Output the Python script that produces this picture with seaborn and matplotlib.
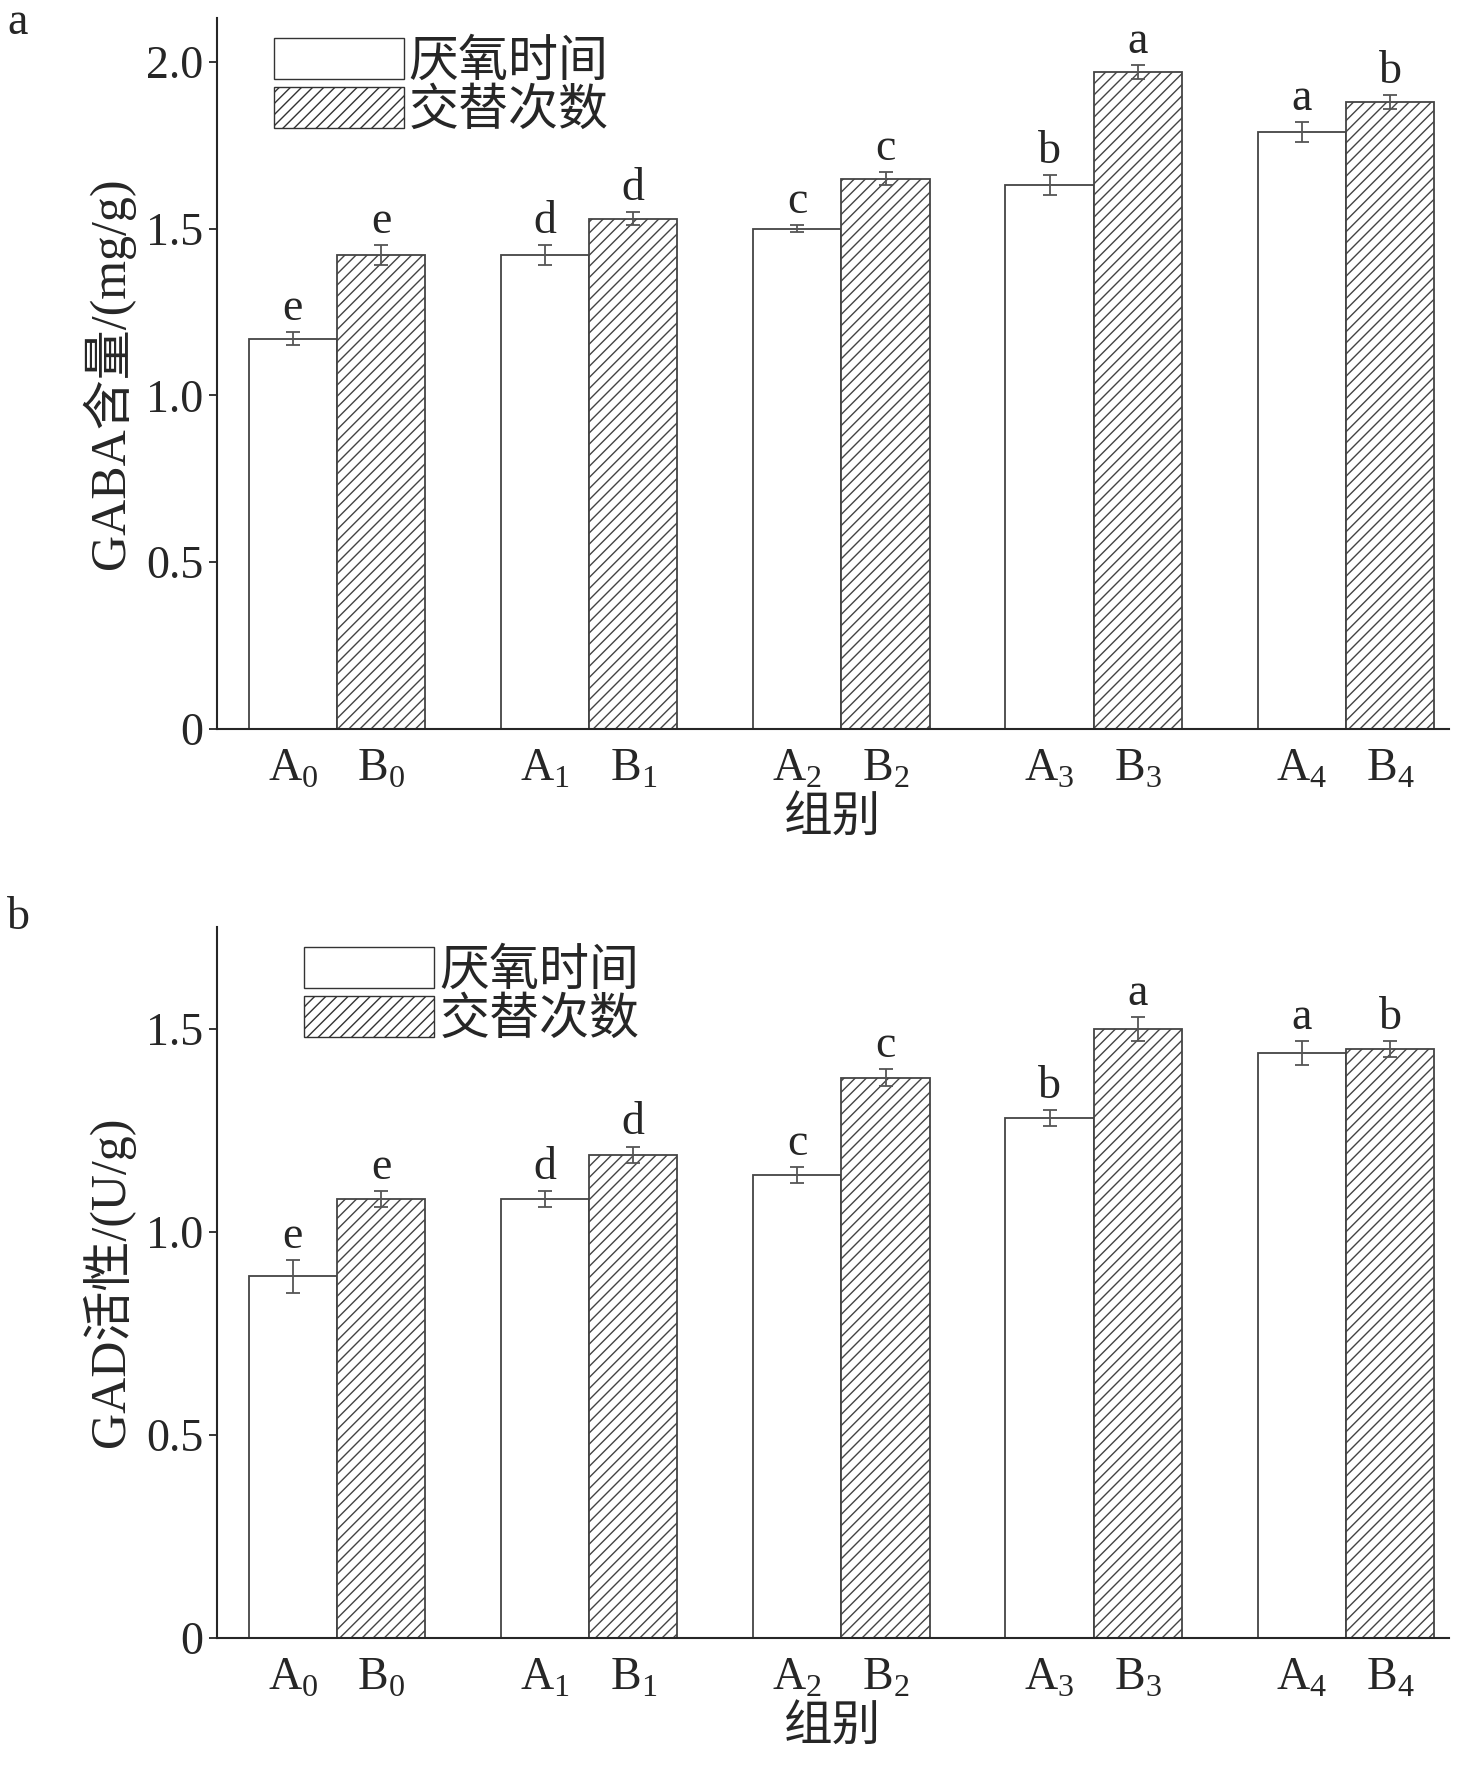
import matplotlib
matplotlib.use("Agg")
import matplotlib.pyplot as plt
import seaborn as sns
import pandas as pd
import numpy as np
from matplotlib.patches import Patch

groups = ["0", "1", "2", "3", "4"]
series = ["厌氧时间", "交替次数"]
gaba_A = [1.17, 1.42, 1.50, 1.63, 1.79]
gaba_A_err = [0.02, 0.03, 0.01, 0.03, 0.03]
gaba_B = [1.42, 1.53, 1.65, 1.97, 1.88]
gaba_B_err = [0.03, 0.02, 0.02, 0.02, 0.02]
gaba_A_let = ["e", "d", "c", "b", "a"]
gaba_B_let = ["e", "d", "c", "a", "b"]
gad_A = [0.89, 1.08, 1.14, 1.28, 1.44]
gad_A_err = [0.04, 0.02, 0.02, 0.02, 0.03]
gad_B = [1.08, 1.19, 1.38, 1.50, 1.45]
gad_B_err = [0.02, 0.02, 0.02, 0.03, 0.02]
gad_A_let = ["e", "d", "c", "b", "a"]
gad_B_let = ["e", "d", "c", "a", "b"]

sns.set_style("ticks")
plt.rcParams['font.family'] = ['Liberation Serif', 'Noto Sans CJK SC']
plt.rcParams['mathtext.fontset'] = 'custom'
plt.rcParams['mathtext.rm'] = 'Liberation Serif'
plt.rcParams['hatch.color'] = '#666666'
plt.rcParams['hatch.linewidth'] = 1.0

fig = plt.figure(figsize=(14.73, 17.82), dpi=100)
axa = fig.add_axes([0.147, 0.591, 0.837, 0.399])
axb = fig.add_axes([0.147, 0.081, 0.837, 0.399])

FS = 31

def panel(ax, A, Ae, B, Be, Al, Bl, ylim, yticks, ylabel, leg_x, tag, tag_y):
    df = pd.DataFrame({"g": groups * 2, "s": [series[0]] * 5 + [series[1]] * 5,
                       "v": A + B})
    sns.barplot(data=df, x="g", y="v", hue="s", ax=ax, width=0.7, dodge=True,
                palette=["white", "white"], edgecolor="#444444", linewidth=1.3,
                errorbar=None, legend=False)
    bars = [p for p in ax.patches]
    vals = A + B
    errs = Ae + Be
    lets = Al + Bl
    tickpos, ticklab = [], []
    for i, p in enumerate(bars[:10]):
        if i >= 5:
            p.set_hatch('///')
        xc = p.get_x() + p.get_width() / 2
        ax.errorbar(xc, vals[i], yerr=errs[i], fmt='none', ecolor='#555555',
                    elinewidth=1.3, capsize=5, capthick=1.3)
        ax.text(xc, vals[i] + errs[i] + 0.003 * ylim, lets[i], ha='center',
                va='bottom', fontsize=FS + 2)
        tickpos.append(xc)
        ticklab.append(("A" if i < 5 else "B") + r"$_{\mathregular{" + groups[i % 5] + "}}$")
    ax.set_xticks(tickpos)
    ax.set_xticklabels(ticklab, fontsize=FS + 2)
    ax.set_xlim(-0.477, 4.41)
    ax.set_ylim(0, ylim)
    ax.set_yticks(yticks)
    ax.set_yticklabels(["0" if t == 0 else f"{t:.1f}" for t in yticks], fontsize=FS + 2)
    ax.set_xlabel("组别", fontsize=FS + 4, labelpad=4)
    ax.set_ylabel(ylabel, fontsize=FS + 5, labelpad=8)
    ax.tick_params(direction='out', length=6, width=1.3)
    ax.tick_params(axis='x', length=0, pad=14)
    for s in ['top', 'right']:
        ax.spines[s].set_visible(False)
    for s in ['left', 'bottom']:
        ax.spines[s].set_linewidth(1.5)
    handles = [Patch(facecolor='white', edgecolor='#333333', label=series[0]),
               Patch(facecolor='white', edgecolor='#333333', hatch='///', label=series[1])]
    ax.legend(handles=handles, loc='upper left', bbox_to_anchor=(leg_x, 1.0),
              frameon=False, fontsize=FS + 5, handlelength=2.6, handleheight=0.9,
              handletextpad=0.1, labelspacing=0.0, borderaxespad=0.0)
    fig.text(0.005, tag_y, tag, fontsize=FS + 2, ha='left', va='center')

panel(axa, gaba_A, gaba_A_err, gaba_B, gaba_B_err, gaba_A_let, gaba_B_let,
      2.133, [0, 0.5, 1.0, 1.5, 2.0], "GABA含量/(mg/g)", 0.03, "a", 0.987)
panel(axb, gad_A, gad_A_err, gad_B, gad_B_err, gad_A_let, gad_B_let,
      1.752, [0, 0.5, 1.0, 1.5], "GAD活性/(U/g)", 0.055, "b", 0.485)

fig.savefig("out.png", dpi=100)
